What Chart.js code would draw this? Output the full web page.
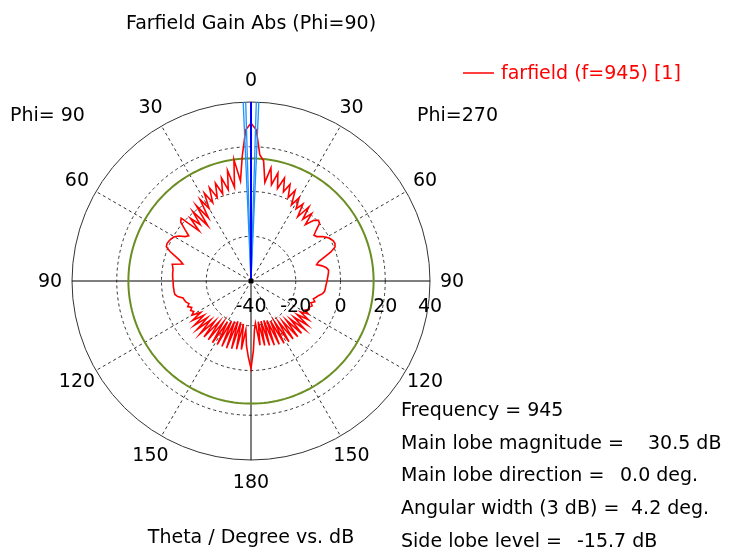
<!DOCTYPE html>
<html>
<head>
<meta charset="utf-8">
<title>Farfield Gain Abs (Phi=90)</title>
<script src="https://cdn.jsdelivr.net/npm/chart.js@4.4.0/dist/chart.umd.min.js"></script>
<style>
  html, body { margin: 0; padding: 0; background: #fff; }
  #wrap { width: 737px; height: 553px; }
</style>
</head>
<body>
<div id="wrap"><canvas id="farfieldChart" width="737" height="553"></canvas></div>
<script>
// Gain (dB) vs theta, 0..180 deg in 2 deg steps
const thetaStep = 2;
const gainPhi270 = [
  30.5, 27.6, 16.5, 14.0, 4.5, 11.3, 4.0, 9.7, 3.0, 8.4,
  2.4, 6.6, 0.8, 5.0, -1.5, 3.0, -2.0, 1.5, -4.5, 2.0,
  -4.0, 0.5, -5.0, -1.0, 0.6, 0.0, -3.0, -5.2, -4.5, -2.5,
  -1.0, 0.2, 0.9, 1.1, 0.5, -2.0, -5.5, -8.5, -9.8, -7.5,
  -5.8, -5.0, -5.2, -5.5, -5.8, -6.0, -6.3, -6.5, -6.6, -6.8,
  -7.5, -9.0, -10.0, -11.0, -10.0, -11.5, -10.5, -11.5, -11.0, -12.5,
  -10.5, -14.0, -9.0, -14.5, -8.0, -15.0, -7.5, -15.5, -7.5, -16.5,
  -7.5, -17.0, -8.0, -18.0, -8.0, -19.0, -8.5, -20.0, -9.0, -21.0,
  -9.5, -21.5, -10.0, -21.5, -10.5, -21.5, -11.0, -21.0, -18.0, -9.0,
  -0.9
];
const gainPhi90 = [
  30.5, 27.6, 16.0, 5.0, 14.8, 2.5, 10.5, 2.0, 8.0, 1.0,
  6.5, 0.3, 5.7, -1.0, 4.5, -2.5, 3.0, -6.0, 1.7, -8.6,
  0.5, -6.0, -1.0, -7.7, 2.0, 1.0, -2.5, -5.6, -4.5, -2.0,
  -0.5, 0.3, 0.8, 1.1, 0.8, -1.5, -4.5, -7.0, -8.6, -4.0,
  -4.5, -4.8, -4.8, -4.9, -5.0, -5.2, -5.2, -5.2, -5.3, -5.3,
  -5.5, -6.5, -8.7, -9.0, -9.5, -10.5, -9.5, -11.0, -10.0, -11.0,
  -9.5, -13.5, -8.5, -14.0, -7.8, -14.5, -7.5, -15.0, -7.3, -16.0,
  -7.3, -17.0, -7.5, -18.0, -7.5, -19.0, -7.8, -20.0, -8.0, -20.5,
  -8.0, -21.0, -8.5, -21.0, -8.8, -20.5, -9.0, -18.0, -11.0, -6.0,
  -0.9
];
const angleTicks = [0, 30, 60, 90, 120, 150, 180];
const radialTicks = [-40, -20, 0, 20, 40];

const frequency = 945;
const mainLobeMagnitude = 30.5;
const mainLobeDirection = 0.0;
const angularWidth = 4.2;
const sideLobeLevel = -15.7;

// one full turn, clockwise from top: phi=270 side first, then phi=90 side back up
const labels = [];
const gain = [];
for (let a = 0; a < 360; a += thetaStep) {
  if (a <= 180) {
    labels.push(a);
    gain.push(gainPhi270[a / thetaStep]);
  } else {
    labels.push(360 - a);
    gain.push(gainPhi90[(360 - a) / thetaStep]);
  }
}
const sideLobeRing = labels.map(() => mainLobeMagnitude + sideLobeLevel);

const FONT = '19px "DejaVu Sans", Verdana, sans-serif';
const deg = Math.PI / 180;

const polarDecor = {
  id: 'polarDecor',
  afterDatasetsDraw(chart) {
    const r = chart.scales.r;
    const ctx = chart.ctx;
    const outer = r.getDistanceFromCenterForValue(r.max);

    ctx.save();
    // 3 dB beam edges
    ctx.strokeStyle = '#1e90ff';
    ctx.lineWidth = 1.3;
    [-1, 1].forEach(side => {
      [-0.4, 0.4].forEach(d => {
        const p = r.getPointPosition(0, outer, (mainLobeDirection + side * (angularWidth / 2 + d)) * deg);
        ctx.beginPath();
        ctx.moveTo(r.xCenter, r.yCenter);
        ctx.lineTo(p.x, p.y);
        ctx.stroke();
      });
    });
    // main lobe direction
    const m = r.getPointPosition(0, outer, mainLobeDirection * deg);
    ctx.strokeStyle = '#0000ff';
    ctx.lineWidth = 2;
    ctx.beginPath();
    ctx.moveTo(r.xCenter, r.yCenter);
    ctx.lineTo(m.x, m.y);
    ctx.stroke();
    // origin marker
    ctx.fillStyle = '#000';
    ctx.beginPath();
    ctx.arc(r.xCenter, r.yCenter, 2.5, 0, Math.PI * 2);
    ctx.fill();
    ctx.restore();
  },
  afterDraw(chart) {
    const r = chart.scales.r;
    const ctx = chart.ctx;
    const outer = r.getDistanceFromCenterForValue(r.max);
    ctx.save();
    ctx.font = FONT;
    ctx.fillStyle = '#000';
    ctx.textBaseline = 'middle';

    // theta labels on both halves
    ctx.textAlign = 'center';
    angleTicks.forEach(t => {
      const spots = (t === 0 || t === 180) ? [t] : [t, 360 - t];
      spots.forEach(a => {
        const p = r.getPointPosition(a / thetaStep, outer + 22);
        ctx.fillText(String(t), p.x, p.y + 1);
      });
    });

    // dB labels along the horizontal axis
    radialTicks.forEach(v => {
      ctx.fillText(String(v), r.xCenter + r.getDistanceFromCenterForValue(v), r.yCenter + 26);
    });

    ctx.fillText('Farfield Gain Abs (Phi=90)', r.xCenter, 24);
    ctx.fillText('Theta / Degree vs. dB', r.xCenter, 538);

    ctx.textAlign = 'left';
    ctx.fillText('Phi= 90', 10, 116);
    ctx.fillText('Phi=270', 417, 116);

    // legend
    ctx.strokeStyle = '#ff0000';
    ctx.lineWidth = 1.5;
    ctx.beginPath();
    ctx.moveTo(463, 73);
    ctx.lineTo(494, 73);
    ctx.stroke();
    ctx.fillStyle = '#ff0000';
    ctx.fillText('farfield (f=' + frequency + ') [1]', 501, 74);

    // summary block
    ctx.fillStyle = '#000';
    const info = [
      ['Frequency = ' + frequency, null],
      ['Main lobe magnitude =', mainLobeMagnitude.toFixed(1) + ' dB', 648],
      ['Main lobe direction =', mainLobeDirection.toFixed(1) + ' deg.', 620],
      ['Angular width (3 dB) =', angularWidth.toFixed(1) + ' deg.', 631],
      ['Side lobe level =', sideLobeLevel.toFixed(1) + ' dB', 577]
    ];
    info.forEach((row, i) => {
      const y = 411 + i * 32.7;
      ctx.fillText(row[0], 401, y);
      if (row[1]) ctx.fillText(row[1], row[2], y);
    });
    ctx.restore();
  }
};

const ctx = document.getElementById('farfieldChart');
new Chart(ctx, {
  type: 'radar',
  data: {
    labels: labels,
    datasets: [
      {
        label: 'farfield (f=945) [1]',
        data: gain,
        borderColor: '#ff0000',
        borderWidth: 1.6,
        fill: false
      },
      {
        label: 'side lobe level',
        data: sideLobeRing,
        borderColor: '#6b8e23',
        borderWidth: 2,
        fill: false
      }
    ]
  },
  options: {
    responsive: false,
    animation: false,
    layout: { padding: { left: 72, top: 102, right: 307, bottom: 93 } },
    elements: {
      line: { tension: 0 },
      point: { radius: 0, hitRadius: 0, hoverRadius: 0 }
    },
    plugins: {
      legend: { display: false },
      tooltip: { enabled: false }
    },
    scales: {
      r: {
        min: -40,
        max: 40,
        ticks: { display: false, stepSize: 20 },
        pointLabels: { display: false },
        grid: {
          circular: true,
          color: c => c.tick.value === 40 ? '#333' : '#333',
          lineWidth: 1
        },
        border: { dash: c => c.tick.value === 40 ? [] : [3, 3] },
        angleLines: {
          display: true,
          color: c => c.index % 45 === 0 ? '#000' : '#333',
          lineWidth: c => c.index % 15 === 0 ? 1 : 0,
          borderDash: c => c.index % 45 === 0 ? [] : [3, 3]
        }
      }
    }
  },
  plugins: [polarDecor]
});
</script>
</body>
</html>
